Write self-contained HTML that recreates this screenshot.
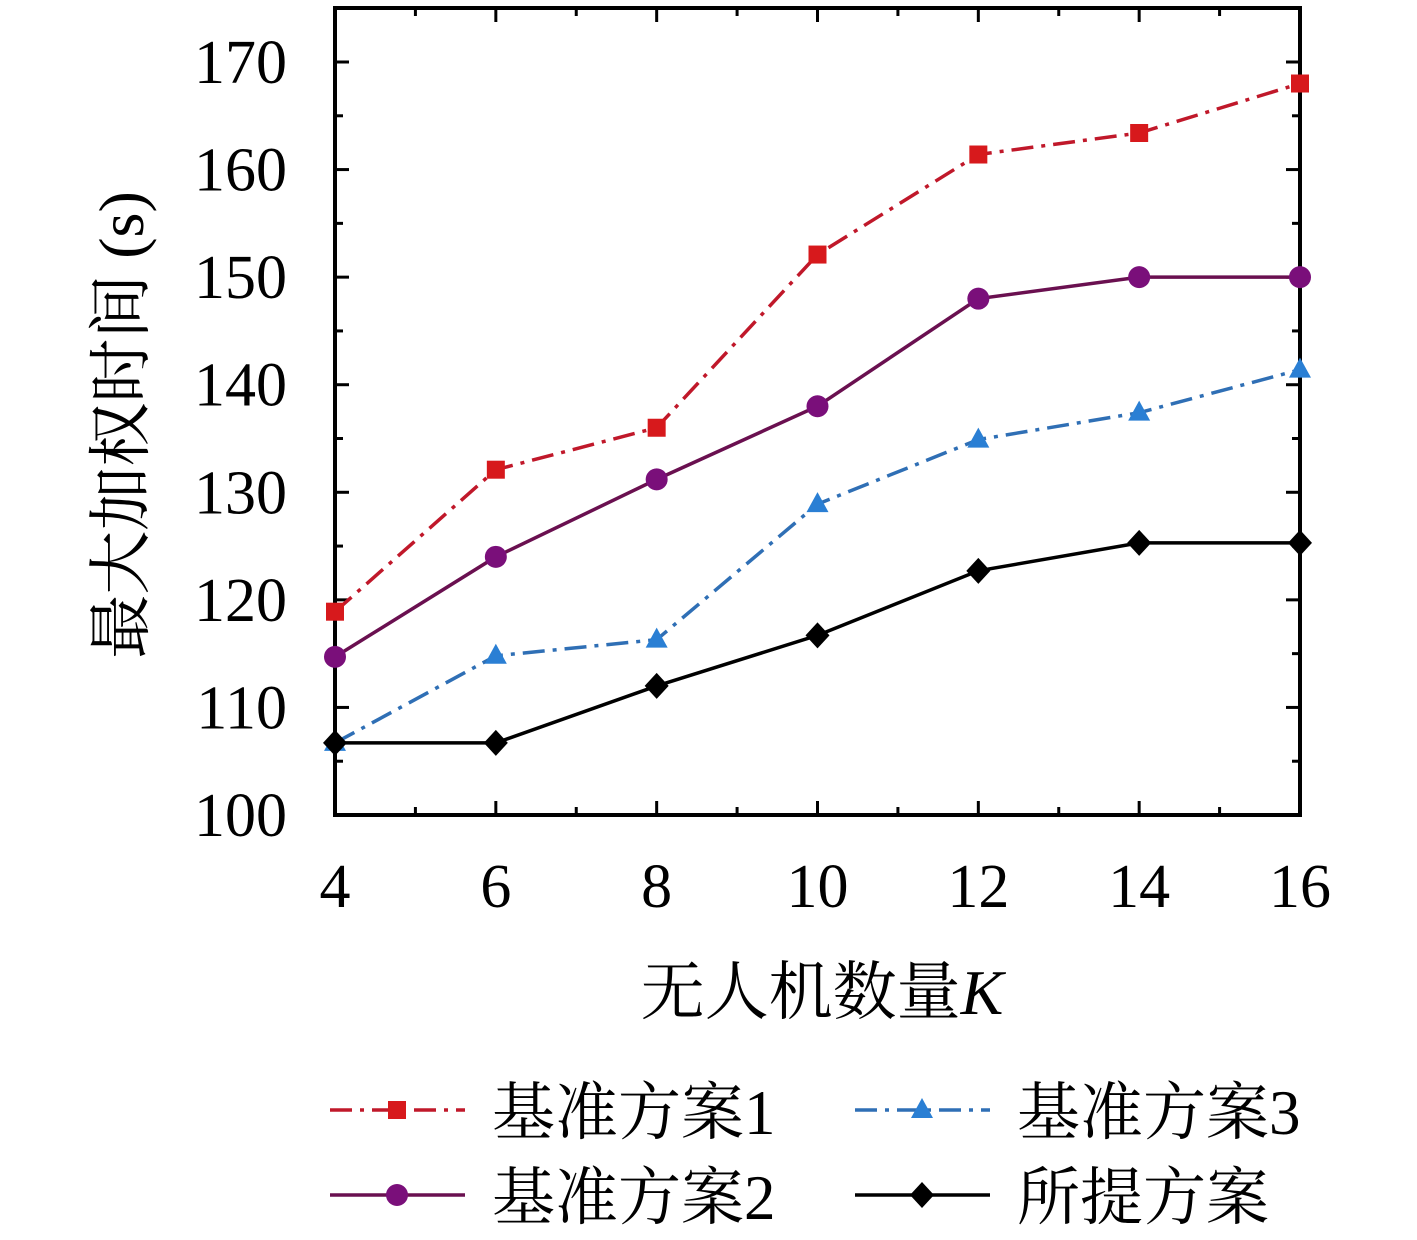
<!DOCTYPE html>
<html><head><meta charset="utf-8"><style>
body{margin:0;background:#fff;}
svg text{font-family:"Liberation Serif","Noto Serif CJK SC",serif;fill:#000;}
</style></head><body>
<svg id="chart" width="1417" height="1235" viewBox="0 0 1417 1235" xmlns="http://www.w3.org/2000/svg">
<rect width="1417" height="1235" fill="#fff"/>
<g id="plot"></g>
<g id="legend"></g>
</svg>
<script>
const categories=[4,6,8,10,12,14,16];
const s1=[118.9,132.1,136,152.1,161.4,163.4,168];
const s2=[114.7,124,131.2,138,148,150,150];
const s3=[106.7,114.8,116.3,128.9,134.9,137.4,141.4];
const s4=[106.7,106.7,112,116.7,122.7,125.3,125.3];
const yTicks=[100,110,120,130,140,150,160,170];
const xTicks=[4,6,8,10,12,14,16];
const names=["基准方案1","基准方案2","基准方案3","所提方案"];

const L=335,R=1300,T=8,B=815,ymin=100,ymax=170,xmin=4,xmax=16;
const yTop=62;
const xs=v=>L+(v-xmin)/(xmax-xmin)*(R-L);
const ys=v=>B-(v-ymin)/(ymax-ymin)*(B-yTop);
const NS="http://www.w3.org/2000/svg";
const plot=document.getElementById('plot');
function mk(tag,attrs,parent){const e=document.createElementNS(NS,tag);for(const k in attrs)e.setAttribute(k,attrs[k]);(parent||plot).appendChild(e);return e;}

const frame=mk('rect',{x:L,y:T,width:R-L,height:B-T,fill:'none',stroke:'#000','stroke-width':4});


yTicks.forEach(v=>{
  const y=ys(v);
  const t=mk('line',{x1:L,x2:L+14,y1:y,y2:y,stroke:'#000','stroke-width':3});
  
  
  mk('line',{x1:R,x2:R-14,y1:y,y2:y,stroke:'#000','stroke-width':3});
  const lab=mk('text',{x:L-48,y:y+21,'text-anchor':'end','font-size':62});
  lab.textContent=v;
  
  
  if(v<ymax){const m=ys(v+5);
    mk('line',{x1:L,x2:L+8,y1:m,y2:m,stroke:'#000','stroke-width':3});
    mk('line',{x1:R,x2:R-8,y1:m,y2:m,stroke:'#000','stroke-width':3});}
});
xTicks.forEach(v=>{
  const x=xs(v);
  const t=mk('line',{x1:x,x2:x,y1:B,y2:B-14,stroke:'#000','stroke-width':3});
  
  
  mk('line',{x1:x,x2:x,y1:T,y2:T+14,stroke:'#000','stroke-width':3});
  const lab=mk('text',{x:x,y:B+92,'text-anchor':'middle','font-size':62});
  lab.textContent=v;
  
  
  if(v<xmax){const m=xs(v+1);
    mk('line',{x1:m,x2:m,y1:B,y2:B-8,stroke:'#000','stroke-width':3});
    mk('line',{x1:m,x2:m,y1:T,y2:T+8,stroke:'#000','stroke-width':3});}
});
const xt=mk('text',{x:822,y:1014,'text-anchor':'middle','font-size':64});
xt.innerHTML='无人机数量<tspan font-style="italic">K</tspan>';


const yt=mk('text',{x:0,y:0,'text-anchor':'middle','font-size':64,transform:'translate(143,425) rotate(-90)'});
yt.textContent='最大加权时间 (s)';



const series=[
 {d:s1,c:'#d7191c',line:'#c0182a',dash:'22 8 4 8',m:'square',n:'series-baseline-1'},
 {d:s2,c:'#7a0f7a',line:'#6a1050',dash:'',m:'circle',n:'series-baseline-2'},
 {d:s3,c:'#2a7fd4',line:'#2f6fb5',dash:'22 8 4 8',m:'triangle',n:'series-baseline-3'},
 {d:s4,c:'#000',line:'#000',dash:'',m:'diamond',n:'series-proposed'}];
function marker(type,x,y,c,parent){
  if(type==='square')return mk('rect',{x:x-9,y:y-9,width:18,height:18,fill:c},parent);
  if(type==='circle')return mk('circle',{cx:x,cy:y,r:11,fill:c},parent);
  if(type==='triangle')return mk('polygon',{points:`${x},${y-12} ${x+11},${y+8} ${x-11},${y+8}`,fill:c},parent);
  return mk('polygon',{points:`${x},${y-13} ${x+12},${y} ${x},${y+13} ${x-12},${y}`,fill:c},parent);
}
series.forEach(s=>{
  const g=mk('g',{});
  
  
  const pts=s.d.map((v,i)=>xs(categories[i])+','+ys(v)).join(' ');
  const pl=mk('polyline',{points:pts,fill:'none',stroke:s.line,'stroke-width':3.5,'stroke-dasharray':s.dash},g);
  
  
  s.d.forEach((v,i)=>{const mm=marker(s.m,xs(categories[i]),ys(v),s.c,g);
    
    });
});
const leg=document.getElementById('legend');
const lpos=[[330,1110],[330,1195],[855,1110],[855,1195]];
series.forEach((s,i)=>{
  const [x,y]=lpos[i];
  const g=mk('g',{},leg);
  
  
  mk('line',{x1:x,x2:x+135,y1:y,y2:y,stroke:s.line,'stroke-width':3.5,'stroke-dasharray':s.dash},g);
  marker(s.m,x+67,y,s.c,g);
  const t=mk('text',{x:x+162,y:y+24,'font-size':63},g);
  t.textContent=names[i];
});
</script>
</body></html>
